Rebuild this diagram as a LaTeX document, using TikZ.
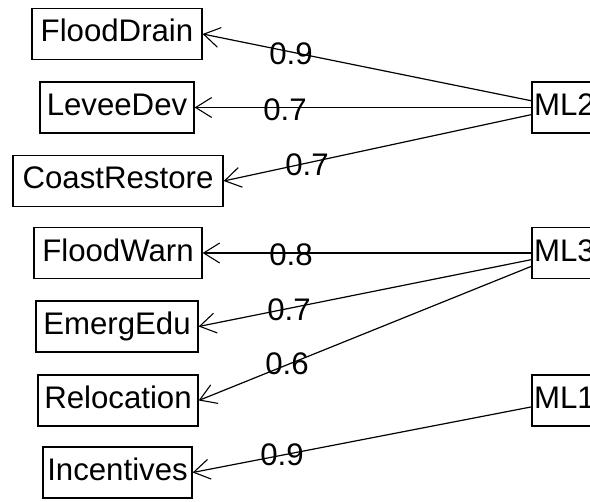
\documentclass[tikz,border=0pt]{standalone}
\usepackage{fontspec}
\setmainfont{Liberation Sans}
\usetikzlibrary{arrows.meta}
\begin{document}
\begin{tikzpicture}[x=1bp,y=-1bp,
  var/.style={draw, line width=1.3bp, inner sep=0pt, minimum height=51bp,
    text height=22bp, text depth=6bp, font=\fontsize{31.2bp}{36bp}\selectfont},
  fac/.style={var, minimum width=65bp, align=left},
  lab/.style={inner sep=0pt, font=\fontsize{31.2bp}{36bp}\selectfont},
  load/.style={line width=1.2bp, -{Straight Barb[length=16bp,width=20bp,line width=1.1bp]}}]
\useasboundingbox (0,0) rectangle (590,502);
\clip (0,0) rectangle (590,502);
% observed variables
\node[var, minimum width=170bp] (FD) at (117,34) {FloodDrain};
\node[var, minimum width=154bp] (LD) at (117,107.5) {LeveeDev};
\node[var, minimum width=210bp] (CR) at (118,181) {CoastRestore};
\node[var, minimum width=168bp] (FW) at (118,253) {FloodWarn};
\node[var, minimum width=162bp] (EE) at (117,326.5) {EmergEdu};
\node[var, minimum width=160bp] (RL) at (118,400.5) {Relocation};
\node[var, minimum width=149bp] (IN) at (117.5,472.5) {Incentives};
% factors
\node[fac] (ML2) at (564.5,107.5) {ML2};
\node[fac] (ML3) at (564.5,253) {ML3};
\node[fac] (ML1) at (564.5,400.5) {ML1};
% loadings
\draw[load] (ML2) -- (FD.east);
\draw[load] (ML2) -- (LD.east);
\draw[load] (ML2) -- (CR.east);
\draw[load] (ML3) -- (FW.east);
\draw[load] (ML3) -- (EE.east);
\draw[load] (ML3) -- (RL.east);
\draw[load] (ML1) -- (IN.east);
% labels
\node[lab] (l1) at (291,53.5) {0.9};
\node[lab] (l2) at (285,110) {0.7};
\node[lab] (l3) at (307,165) {0.7};
\node[lab] (l4) at (291,255) {0.8};
\node[lab] (l5) at (289,310) {0.7};
\node[lab] (l6) at (287,363.5) {0.6};
\node[lab] (l7) at (282,455) {0.9};
\end{tikzpicture}
\end{document}
